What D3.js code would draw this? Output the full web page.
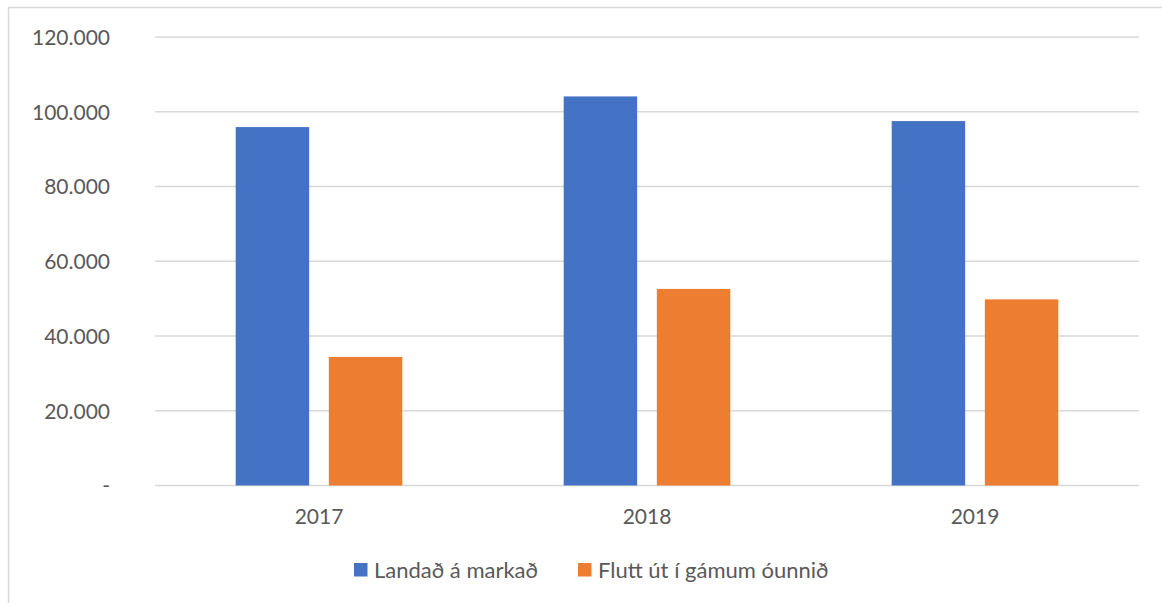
<!DOCTYPE html>
<html><head><meta charset="utf-8">
<script src="https://cdn.jsdelivr.net/npm/d3@7"></script>
<style>body{margin:0;background:#fff;} svg{display:block;}</style>
</head><body>
<svg id="c" width="1162" height="603"></svg>
<script>
const categories = ["2017", "2018", "2019"];
const seriesNames = ["Landað á markað", "Flutt út í gámum óunnið"];
const landad = [95900, 104100, 97500];
const flutt = [34400, 52600, 49800];
const yTicks = [0, 20000, 40000, 60000, 80000, 100000, 120000];
const yTickLabels = ["-", "20.000", "40.000", "60.000", "80.000", "100.000", "120.000"];
const colors = ["#4472C4", "#ED7D31"];

(function () {
const svg = d3.select("#c");
const font = "Lato, 'Open Sans', sans-serif";
const textColor = "#595959";

// chart frame
svg.append("rect").attr("x", 8.5).attr("y", 7.5).attr("width", 1160).attr("height", 600)
  .attr("fill", "none").attr("stroke", "#D9D9D9").attr("stroke-width", 1.5);

const pLeft = 155, pRight = 1139, pTop = 37, pBottom = 485.5;
const x = d3.scaleBand().domain(categories).range([pLeft, pRight]);
const y = d3.scaleLinear().domain([0, 120000]).range([pBottom, pTop]);
const bw = x.bandwidth() * 0.224;
const gap = x.bandwidth() * 0.06;

// gridlines
svg.append("g").selectAll("line").data(yTicks).join("line")
  .attr("x1", pLeft).attr("x2", pRight)
  .attr("y1", d => y(d)).attr("y2", d => y(d))
  .attr("stroke", "#D9D9D9").attr("stroke-width", 1.5);

// y tick labels via axis
const yAxis = d3.axisLeft(y).tickValues(yTicks).tickFormat((d, i) => yTickLabels[i]).tickSize(0).tickPadding(0);
const yg = svg.append("g").attr("transform", "translate(110,0)").call(yAxis);
yg.select(".domain").remove();
yg.selectAll("text").attr("font-family", font).attr("font-size", 21).attr("fill", textColor).attr("dy", "0.35em");

// bars
const series = [landad, flutt];
series.forEach((vals, si) => {
  svg.append("g").selectAll("rect").data(categories).join("rect")
    .attr("x", d => x(d) + x.bandwidth() / 2 + (si === 0 ? -(gap / 2 + bw) : gap / 2))
    .attr("width", bw)
    .attr("y", (d, i) => y(vals[i]))
    .attr("height", (d, i) => y(0) - y(vals[i]))
    .attr("fill", colors[si]);
});

// x labels
const xAxis = d3.axisBottom(x).tickSize(0).tickPadding(0);
const xg = svg.append("g").attr("transform", `translate(0,${pBottom})`).call(xAxis);
xg.select(".domain").remove();
xg.selectAll("text").attr("font-family", font).attr("font-size", 21).attr("fill", textColor)
  .attr("y", 38.5).attr("dy", null);

// legend
const legendItems = [{x: 354, name: seriesNames[0], c: colors[0]}, {x: 578, name: seriesNames[1], c: colors[1]}];
const lg = svg.append("g");
legendItems.forEach(it => {
  lg.append("rect").attr("x", it.x).attr("y", 563).attr("width", 13.5).attr("height", 13.5).attr("fill", it.c);
  lg.append("text").attr("x", it.x + 20).attr("y", 577.5).text(it.name)
    .attr("font-family", font).attr("font-size", 22).attr("fill", textColor);
});
})();
</script>
</body></html>
